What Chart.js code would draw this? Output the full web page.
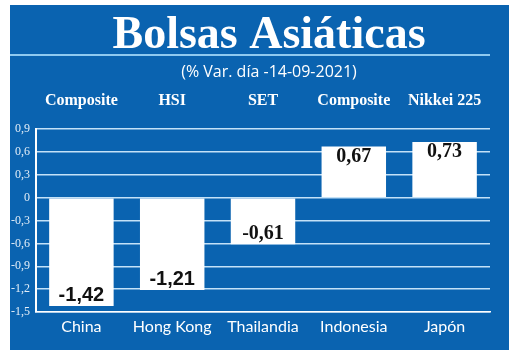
<!DOCTYPE html>
<html>
<head>
<meta charset="utf-8">
<script src="https://cdn.jsdelivr.net/npm/chart.js@4.4.1/dist/chart.umd.min.js"></script>
<style>
  html, body { margin: 0; padding: 0; background: #fff; }
  #panel { position: absolute; left: 10px; top: 5px; width: 499px; height: 345px; background: #0a63b0; }
</style>
</head>
<body>
<div id="panel"><canvas id="chart" width="499" height="345"></canvas></div>
<script>
// data
const countries = ['China', 'Hong Kong', 'Thailandia', 'Indonesia', 'Japón'];
const indices = ['Composite', 'HSI', 'SET', 'Composite', 'Nikkei 225'];
const changes = [-1.42, -1.21, -0.61, 0.67, 0.73];
const yTicks = [-1.5, -1.2, -0.9, -0.6, -0.3, 0, 0.3, 0.6, 0.9];

const fmt = v => (Math.abs(v) < 1e-9 ? '0' : String(v).replace('.', ','));

// numbers printed inside the end of each bar
const barValueLabels = {
  id: 'barValueLabels',
  afterDatasetsDraw(chart, args, opts) {
    const ctx = chart.ctx;
    const meta = chart.getDatasetMeta(0);
    ctx.save();
    ctx.fillStyle = '#111';
    ctx.textAlign = 'center';
    ctx.textBaseline = 'middle';
    meta.data.forEach((bar, i) => {
      const v = changes[i];
      ctx.font = 'bold ' + opts.size + 'px ' + opts.families[i];
      const y = v < 0 ? bar.y - opts.offset : bar.y + opts.offset;
      ctx.fillText(v.toFixed(2).replace('.', ','), bar.x, y);
    });
    ctx.restore();
  }
};

// big title, the rule under it and the date line
// (drawn by hand because the header is not centred on the canvas)
const header = {
  id: 'header',
  afterDraw(chart, args, opts) {
    const ctx = chart.ctx;
    ctx.save();
    ctx.fillStyle = '#ffffff';
    ctx.textAlign = 'center';
    ctx.textBaseline = 'alphabetic';
    ctx.font = 'bold 46px "Liberation Serif"';
    ctx.fillText(opts.title, opts.x, 43);
    ctx.font = '16px "Open Sans"';
    ctx.fillText(opts.subtitle, opts.x, 72);
    ctx.strokeStyle = '#8fcaf0';
    ctx.lineWidth = 2;
    ctx.beginPath();
    ctx.moveTo(0, 50);
    ctx.lineTo(chart.chartArea.right, 50);
    ctx.stroke();
    ctx.restore();
  }
};

new Chart(document.getElementById('chart'), {
  type: 'bar',
  data: {
    labels: countries,
    datasets: [{
      data: changes,
      backgroundColor: '#ffffff',
      borderWidth: 0,
      barPercentage: 0.71,
      categoryPercentage: 1.0,
      xAxisID: 'x'
    }]
  },
  options: {
    responsive: false,
    animation: false,
    layout: { padding: { left: 0, right: 19, top: 76, bottom: 8 } },
    scales: {
      x: {
        position: 'bottom',
        offset: true,
        grid: { display: false, drawTicks: false },
        border: { display: true, color: '#ffffff', width: 1.5 },
        ticks: {
          color: '#ffffff',
          padding: 5.4,
          font: { family: 'Lato', size: 16 }
        },
        afterFit: s => { s.height = 30; }
      },
      x2: {
        type: 'category',
        position: 'top',
        labels: indices,
        offset: true,
        grid: { display: false, drawTicks: false },
        border: { display: false },
        ticks: {
          color: '#ffffff',
          padding: 19,
          font: { family: 'Liberation Sans Narrow', size: 16, weight: 'bold' }
        },
        afterFit: s => { s.height = 48; }
      },
      y: {
        min: -1.5,
        max: 0.9,
        afterBuildTicks: s => { s.ticks = yTicks.map(v => ({ value: v })); },
        grid: { color: '#c4e2f8', lineWidth: 1.5, drawTicks: false },
        border: { display: true, color: '#ffffff', width: 2 },
        ticks: {
          color: '#e3eef8',
          padding: 6,
          font: { family: 'Liberation Sans Narrow', size: 12 },
          callback: v => fmt(v)
        },
        afterFit: s => { s.width = 26; }
      }
    },
    plugins: {
      legend: { display: false },
      tooltip: { enabled: false },
      header: {
        title: 'Bolsas Asiáticas',
        subtitle: '(% Var. día -14-09-2021)',
        x: 259
      },
      barValueLabels: {
        size: 20,
        offset: 10,
        families: ['Liberation Sans', 'Liberation Sans', 'Liberation Serif', 'Liberation Serif', 'Liberation Serif']
      }
    }
  },
  plugins: [barValueLabels, header]
});
</script>
</body>
</html>
